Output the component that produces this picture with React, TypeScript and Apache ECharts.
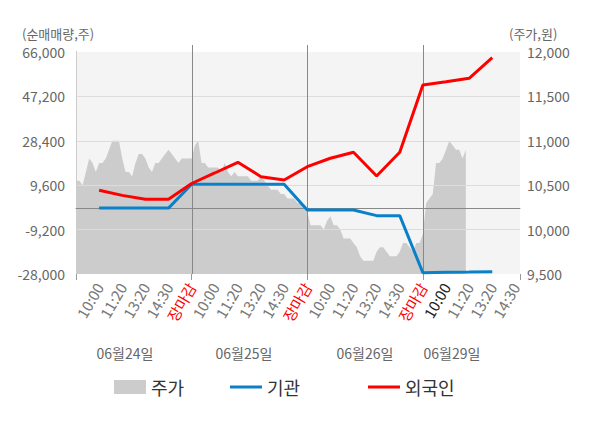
import React, { useEffect, useRef } from "react";
import * as echarts from "echarts";

// x-axis slot labels (slot index = position on the x axis)
const slotLabels = [
  "",
  "10:00", "11:20", "13:20", "14:30", "장마감",
  "10:00", "11:20", "13:20", "14:30", "장마감",
  "10:00", "11:20", "13:20", "14:30", "장마감",
  "10:00", "11:20", "13:20", "14:30",
];
const closeSlots = [5, 10, 15];
const currentSlot = 16;
const dayBoundarySlots = [5, 10, 15];
const dateLabels = ["06월24일", "06월25일", "06월26일", "06월29일"];

// net buying (shares) at each slot
const lineSlots = [1, 2, 3, 4, 5, 6, 7, 8, 9, 10, 11, 12, 13, 14, 15, 16, 17, 18];
const institutionNet = [
  -100, -100, -100, -100, 10000, 10000, 10000, 10000, 10000,
  -900, -900, -900, -3300, -3300, -27450, -27300, -27200, -27000,
];
const foreignNet = [
  7440, 5300, 3630, 3630, 10320, 14770, 19300, 13200, 11800,
  17440, 21000, 23530, 13500, 23530, 52030, 53400, 54860, 63590,
];

// stock price (won), sampled through each trading day
const priceDay1 = [
  10550, 10550, 10500, 10650, 10800, 10750, 10650, 10750, 10750, 10800,
  10900, 11000, 11000, 11000, 10800, 10650, 10650, 10600, 10750, 10850,
  10850, 10800, 10700, 10650, 10750, 10750, 10800, 10850, 10900, 10850,
  10800, 10750, 10800, 10800, 10800,
];
const priceDay2 = [
  10800, 10950, 11000, 10750, 10750, 10700, 10700, 10700, 10700, 10650,
  10750, 10650, 10600, 10650, 10600, 10600, 10600, 10600, 10550, 10550,
  10550, 10600, 10550, 10500, 10450, 10450, 10450, 10400, 10400, 10350,
  10350, 10350, 10300, 10300, 10250,
];
const priceDay3 = [
  10200, 10050, 10050, 10050, 10050, 10000, 10100, 10150, 10050, 10050,
  10000, 9900, 9900, 9900, 9850, 9800, 9700, 9650, 9650, 9650,
  9650, 9750, 9800, 9800, 9750, 9700, 9700, 9700, 9750, 9850,
  9850, 9800, 9750, 9850, 9850,
];
const priceDay4 = [
  9950, 10300, 10350, 10400, 10750, 10750, 10800, 10900, 11000, 10950,
  10900, 10900, 10800, 10900,
];

const netMin = -28000;
const netMax = 66000;
const netInterval = 18800;
const priceMin = 9500;
const priceMax = 12000;
const priceInterval = 500;
const xMax = 19.2;

const FONT = '"Noto Sans CJK KR", "Noto Sans", sans-serif';

export default function App() {
  const ref = useRef<HTMLDivElement>(null);

  useEffect(() => {
    document.body.style.margin = "0";
    const chart = echarts.init(ref.current!, null, { renderer: "svg" });

    const priceData = [priceDay1, priceDay2, priceDay3, priceDay4].flatMap((day, d) =>
      day.map((v, i) => [d * 5 + i / 7, v])
    );
    const instData = lineSlots.map((s, i) => [s, institutionNet[i]]);
    const forData = lineSlots.map((s, i) => [s, foreignNet[i]]);

    const fmt = (v: number) => Number(v).toLocaleString("en-US");

    const legendBase = {
      top: 373,
      itemWidth: 32,
      itemHeight: 14,
      itemGap: 0,
      textStyle: { fontSize: 18, color: "#333", fontFamily: FONT },
      selectedMode: false,
    };
    const lineIcon = "path://M0 0H32V3H0Z";

    chart.setOption({
      animation: false,
      textStyle: { fontFamily: FONT },
      grid: {
        left: 76,
        right: 80,
        top: 52,
        bottom: 154,
        show: true,
        backgroundColor: "#f4f4f4",
        borderWidth: 0,
        z: 0,
      },
      legend: [
        { ...legendBase, left: 109, data: [{ name: "주가", icon: "rect" }] },
        { ...legendBase, left: 225, data: [{ name: "기관", icon: lineIcon }] },
        { ...legendBase, left: 363, data: [{ name: "외국인", icon: lineIcon }] },
      ],
      xAxis: [
        {
          type: "value",
          min: 0,
          max: xMax,
          interval: 1,
          z: 2,
          axisLine: { show: true, lineStyle: { color: "#999" } },
          axisTick: { show: false },
          splitLine: { show: false },
          axisLabel: {
            rotate: 60,
            fontSize: 15,
            margin: 10,
            formatter: (v: number) => {
              const n = Number(v);
              return Number.isInteger(n) ? slotLabels[n] ?? "" : "";
            },
            color: (v: any) => {
              const n = Number(v);
              if (closeSlots.includes(n)) return "#ff0000";
              if (n === currentSlot) return "#222";
              return "#777";
            },
          },
        },
        {
          type: "value",
          min: 0,
          max: xMax,
          interval: 5,
          position: "bottom",
          z: 2,
          axisLine: { show: false },
          axisLabel: { show: false },
          splitLine: { show: false },
          axisTick: { show: true, length: 6, lineStyle: { color: "#999" } },
        },
      ],
      yAxis: [
        {
          type: "value",
          position: "left",
          min: netMin,
          max: netMax,
          interval: netInterval,
          z: 2,
          axisLine: { show: true, lineStyle: { color: "#999" } },
          axisTick: { show: false },
          axisLabel: { fontSize: 14, color: "#666", margin: 11, formatter: fmt },
          splitLine: {
            show: true,
            showMinLine: false,
            showMaxLine: false,
            lineStyle: { color: "#dcdcdc" },
          },
        },
        {
          type: "value",
          position: "right",
          min: priceMin,
          max: priceMax,
          interval: priceInterval,
          z: 2,
          axisLine: { show: true, lineStyle: { color: "#ccc" } },
          axisTick: { show: false },
          axisLabel: { fontSize: 14, color: "#666", margin: 7, formatter: fmt },
          splitLine: { show: false },
        },
      ],
      series: [
        {
          name: "주가",
          type: "line",
          xAxisIndex: 0,
          yAxisIndex: 1,
          data: priceData,
          symbol: "none",
          color: "#cccccc",
          lineStyle: { width: 0, color: "#cccccc" },
          areaStyle: { color: "#cccccc", opacity: 1, origin: "start" },
          z: 1,
        },
        {
          name: "기관",
          type: "line",
          xAxisIndex: 0,
          yAxisIndex: 0,
          data: instData,
          symbol: "none",
          color: "#0a80c9",
          lineStyle: { width: 3, color: "#0a80c9" },
          z: 3,
          markLine: {
            silent: true,
            symbol: "none",
            z: 2.5,
            label: { show: false },
            lineStyle: { color: "#888", width: 1, type: "solid" },
            data: [{ yAxis: 0 }],
          },
        },
        {
          name: "외국인",
          type: "line",
          xAxisIndex: 0,
          yAxisIndex: 0,
          data: forData,
          symbol: "none",
          color: "#ff0000",
          lineStyle: { width: 3, color: "#ff0000" },
          z: 4,
        },
      ],
    });

    const top = chart.convertToPixel({ yAxisIndex: 0 }, netMax) as number;
    const bottom = chart.convertToPixel({ yAxisIndex: 0 }, netMin) as number;
    const dayLines = dayBoundarySlots.map((s) => {
      const x = Math.round(chart.convertToPixel({ xAxisIndex: 0 }, s) as number) + 0.5;
      return {
        type: "line",
        z: 2,
        silent: true,
        shape: { x1: x, y1: top - 7, x2: x, y2: bottom },
        style: { stroke: "#888", lineWidth: 1 },
      };
    });
    const datePos = [125, 244, 365, 452];
    const dateTexts = dateLabels.map((t, i) => ({
      type: "text",
      x: datePos[i],
      y: 353,
      style: {
        text: t,
        fill: "#666",
        font: `14px ${FONT}`,
        textAlign: "center",
        textVerticalAlign: "middle",
      },
    }));
    chart.setOption({
      graphic: [
        ...dayLines,
        ...dateTexts,
        {
          type: "text",
          x: 22,
          y: 33,
          style: {
            text: "(순매매량,주)",
            fill: "#666",
            font: `13px ${FONT}`,
            textAlign: "left",
            textVerticalAlign: "middle",
          },
        },
        {
          type: "text",
          x: 509,
          y: 33,
          style: {
            text: "(주가,원)",
            fill: "#666",
            font: `13px ${FONT}`,
            textAlign: "left",
            textVerticalAlign: "middle",
          },
        },
      ],
    });

    return () => chart.dispose();
  }, []);

  return <div ref={ref} style={{ width: 600, height: 428 }} />;
}
